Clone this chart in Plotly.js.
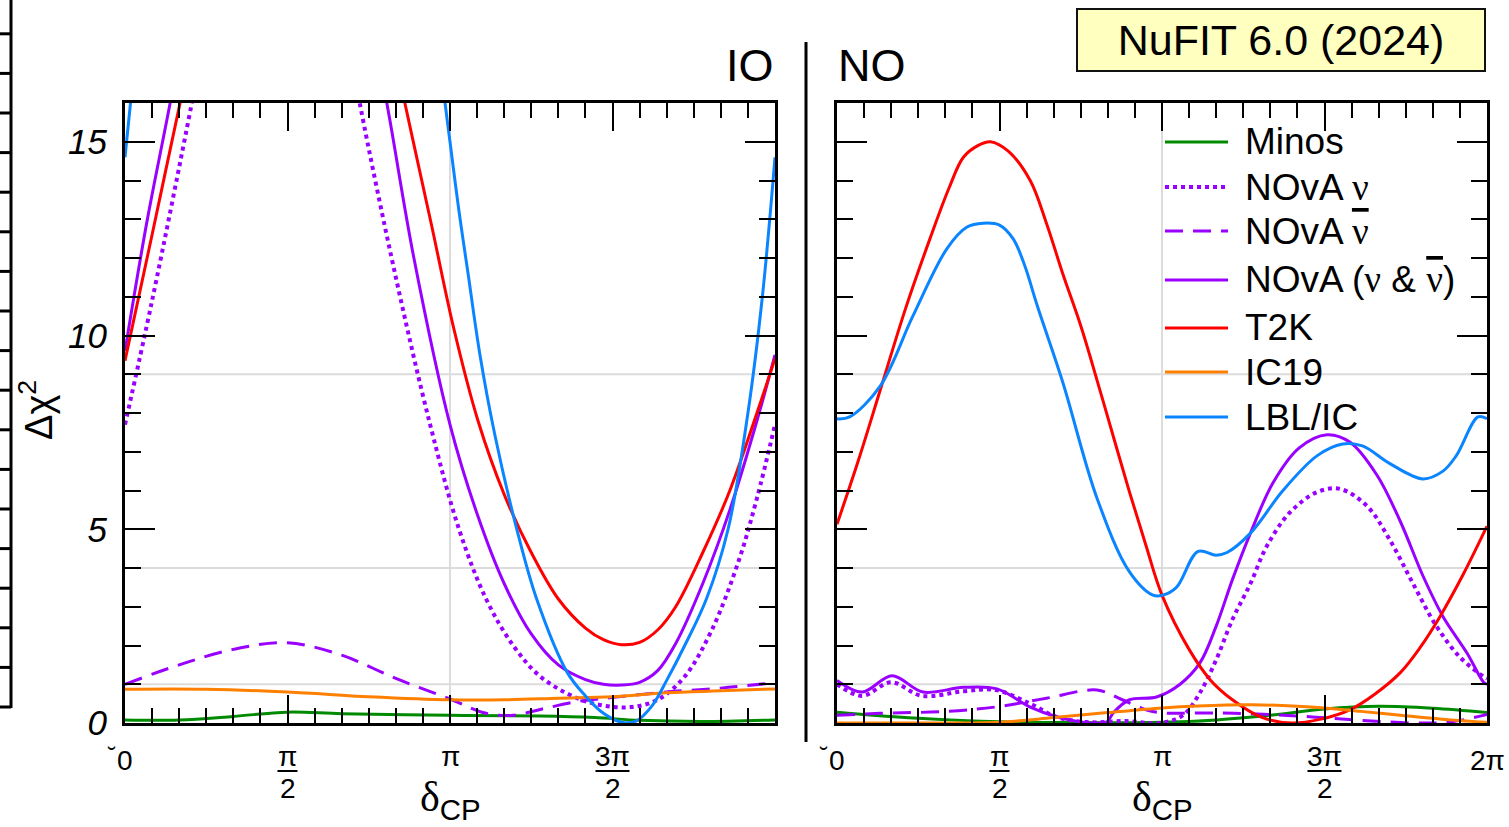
<!DOCTYPE html>
<html>
<head>
<meta charset="utf-8">
<script src="https://cdn.plot.ly/plotly-3.0.1.min.js"></script>
<style>html,body{margin:0;padding:0;background:#fff;}#chart{width:1509px;height:827px;}</style>
</head>
<body>
<div id="chart"></div>
<script>
// ---------------- DATA (delta_CP in degrees, values in Delta chi^2) ----------------
const seriesNames = ["Minos", "NOvA ν", "NOvA ν̄", "NOvA (ν & ν̄)", "T2K", "IC19", "LBL/IC"];
const seriesColors = ["#008a00", "#9900ff", "#9900ff", "#9900ff", "#ff0000", "#ff8000", "#0a85ff"];

// IO panel
const io_minos_x = [0, 30, 60, 90, 120, 180, 230, 260, 285, 320, 360];
const io_minos_y = [0.08, 0.08, 0.17, 0.28, 0.24, 0.2, 0.18, 0.14, 0.07, 0.04, 0.08];
const io_novanu_x = [0, 15, 37, 50, 120, 130, 150, 169, 185, 200, 215, 230, 250, 265, 280, 295, 310, 325, 340, 350, 360];
const io_novanu_y = [7.7, 10.9, 16, 19.2, 18.6, 16, 11.5, 7.7, 5.0, 3.2, 2.0, 1.2, 0.65, 0.45, 0.41, 0.6, 1.2, 2.4, 4.2, 5.8, 7.7];
const io_novanubar_x = [0, 30, 60, 90, 120, 150, 180, 200, 215, 230, 250, 272, 300, 330, 360];
const io_novanubar_y = [1.0, 1.5, 1.9, 2.07, 1.75, 1.15, 0.62, 0.25, 0.2, 0.35, 0.55, 0.67, 0.8, 0.9, 1.04];
const io_nova_x = [0, 12, 25, 40, 130, 145, 160, 180, 195, 210, 225, 240, 255, 265, 275, 285, 295, 305, 320, 335, 350, 360];
const io_nova_y = [9.6, 12.9, 16, 19.8, 19.6, 16, 12.0, 7.7, 5.4, 3.6, 2.3, 1.5, 1.12, 1.0, 0.98, 1.05, 1.35, 2.05, 3.6, 5.5, 7.8, 9.5];
const io_t2k_x = [0, 15, 30.5, 45, 140, 155, 170, 182, 195.5, 210, 225, 240, 255, 265, 275, 285, 295, 305, 320, 335, 350, 360];
const io_t2k_y = [9.35, 12.6, 16, 19.1, 19.3, 16, 12.8, 10.2, 7.8, 5.9, 4.4, 3.2, 2.45, 2.15, 2.02, 2.08, 2.4, 3.0, 4.4, 6.0, 8.0, 9.4];
const io_ic19_x = [0, 45, 90, 135, 180, 210, 240, 270, 300, 330, 360];
const io_ic19_y = [0.87, 0.87, 0.8, 0.68, 0.6, 0.6, 0.64, 0.68, 0.78, 0.83, 0.88];
const io_lblic_x = [0, 5, 10, 170, 177, 180, 185, 190, 196.6, 205, 217, 228, 245, 255, 265, 275, 283, 292, 300, 310, 322, 334, 345, 353, 360];
const io_lblic_y = [14.6, 16.9, 19.2, 19.0, 16.1, 15.0, 13.2, 11.6, 9.5, 7.4, 5.0, 3.2, 1.3, 0.7, 0.25, 0.02, 0.05, 0.45, 1.1, 2.0, 3.2, 5.0, 8.0, 11.0, 14.6];

// NO panel
const no_minos_x = [0, 20, 45, 90, 130, 180, 210, 240, 270, 300, 330, 360];
const no_minos_y = [0.28, 0.2, 0.12, 0.03, 0.01, 0.02, 0.08, 0.2, 0.36, 0.43, 0.38, 0.27];
const no_novanu_x = [0, 14, 30, 47, 70, 88, 107, 122, 140, 160, 179, 191.6, 201, 210, 219, 229, 238, 251, 266, 278.6, 293.5, 306, 319, 332, 345, 358, 360];
const no_novanu_y = [1.0, 0.7, 1.05, 0.7, 0.82, 0.85, 0.5, 0.15, 0.02, 0.05, 0.0, 0.2, 0.78, 1.63, 2.67, 3.6, 4.56, 5.44, 5.96, 6.04, 5.6, 4.74, 3.6, 2.5, 1.7, 1.2, 1.15];
const no_novanubar_x = [0, 24, 61, 89, 116, 144, 158, 172, 180, 210, 240, 265, 290, 320, 340, 360];
const no_novanubar_y = [0.2, 0.25, 0.3, 0.42, 0.64, 0.85, 0.6, 0.33, 0.26, 0.26, 0.22, 0.15, 0.07, 0.0, 0.03, 0.22];
const no_nova_x = [0, 14, 30.5, 47.6, 70, 88.6, 107, 121.8, 140, 149.5, 153, 162, 177, 190, 201, 210, 219, 229, 241.5, 256, 271.4, 284, 299, 312, 324.5, 335.6, 349, 358, 360];
const no_nova_y = [1.1, 0.8, 1.22, 0.8, 0.92, 0.88, 0.41, 0.16, 0.0, 0.03, 0.26, 0.6, 0.67, 1.0, 1.55, 2.5, 3.7, 4.9, 6.2, 7.1, 7.44, 7.25, 6.4, 5.2, 3.8, 2.75, 1.8, 1.06, 1.0];
const no_t2k_x = [0, 12, 24, 38, 51.5, 62, 70, 78, 85, 95, 107, 116, 125, 135, 144, 153, 162, 171, 180, 195, 207, 219, 235, 252, 268, 284, 298, 312, 323, 334, 347, 360];
const no_t2k_y = [5.13, 6.8, 8.6, 10.7, 12.5, 13.8, 14.6, 14.9, 15.0, 14.75, 14.0, 12.9, 11.6, 10.25, 8.85, 7.4, 5.96, 4.6, 3.3, 1.9, 1.1, 0.6, 0.15, 0.0, 0.1, 0.34, 0.75, 1.3, 1.95, 2.75, 3.85, 5.08];
const no_ic19_x = [0, 45, 90, 120, 150, 180, 200, 230, 260, 290, 312, 335, 360];
const no_ic19_y = [0, 0, 0.02, 0.14, 0.27, 0.39, 0.44, 0.47, 0.42, 0.3, 0.2, 0.1, 0.02];
const no_lblic_x = [0, 7, 24, 42, 61, 72, 81, 90, 97.5, 104, 110.7, 125, 144, 162, 175, 180.5, 188, 200, 210, 216, 229, 247, 266, 280, 291, 306, 324.5, 335.6, 343, 355, 360];
const no_lblic_y = [7.85, 7.9, 8.7, 10.5, 12.25, 12.8, 12.9, 12.85, 12.5, 11.8, 10.8, 8.8, 5.8, 3.9, 3.3, 3.3, 3.5, 4.43, 4.33, 4.4, 4.9, 6.0, 6.9, 7.2, 7.15, 6.7, 6.3, 6.5, 6.9, 7.9, 7.85];

const yTickVals = [0, 5, 10, 15];
const yTickText = ["0", "5", "10", "15"];
const gridLevels = [1, 4, 9];

// ---------------- BUILD ----------------
const W = 1509, H = 827;
const px = x => x / W;
const py = y => 1 - y / H;

const ioX = [io_minos_x, io_novanu_x, io_novanubar_x, io_nova_x, io_t2k_x, io_ic19_x, io_lblic_x];
const ioY = [io_minos_y, io_novanu_y, io_novanubar_y, io_nova_y, io_t2k_y, io_ic19_y, io_lblic_y];
const noX = [no_minos_x, no_novanu_x, no_novanubar_x, no_nova_x, no_t2k_x, no_ic19_x, no_lblic_x];
const noY = [no_minos_y, no_novanu_y, no_novanubar_y, no_nova_y, no_t2k_y, no_ic19_y, no_lblic_y];
const dashes = ["solid", "4px,4px", "18px,10px", "solid", "solid", "solid", "solid"];
const widths = [3, 4, 3, 3, 3, 3, 3];

const traces = [];
[[ioX, ioY, 'x', 'y'], [noX, noY, 'x2', 'y2']].forEach(([XS, YS, xa, ya]) => {
  for (let i = 0; i < seriesNames.length; i++) {
    traces.push({
      type: 'scatter', mode: 'lines', name: seriesNames[i],
      x: XS[i], y: YS[i], xaxis: xa, yaxis: ya, showlegend: false,
      line: {color: seriesColors[i], width: widths[i], dash: dashes[i], shape: 'spline', smoothing: 1},
      hoverinfo: 'skip'
    });
  }
});

const xdom1 = [px(125), px(775)], xdom2 = [px(837), px(1487)];
const ydom = [py(723), py(103)];

function xAxis(domain, anchor) {
  return {
    domain: domain, anchor: anchor, range: [0, 360], showgrid: false, zeroline: false,
    showline: true, linewidth: 3, linecolor: 'black', mirror: 'allticks',
    ticks: 'inside', ticklen: 28, tickwidth: 2, tickcolor: 'black',
    tickmode: 'array', tickvals: [0, 90, 180, 270, 360], showticklabels: false,
    minor: {tickmode: 'linear', tick0: 0, dtick: 15, ticks: 'inside', ticklen: 15, tickwidth: 2, tickcolor: 'black', showgrid: false},
    fixedrange: true
  };
}
function yAxis(anchor, labels) {
  return {
    domain: ydom, anchor: anchor, range: [0, 16], showgrid: false, zeroline: false,
    showline: true, linewidth: 3, linecolor: 'black', mirror: 'allticks',
    ticks: 'inside', ticklen: 30, tickwidth: 2, tickcolor: 'black',
    tickmode: 'array', tickvals: yTickVals, ticktext: yTickText, showticklabels: labels,
    ticklabelstandoff: 8,
    tickfont: {size: 35, style: 'italic', color: 'black', family: 'Liberation Sans, Arial, sans-serif'},
    minor: {tickmode: 'linear', tick0: 0, dtick: 1, ticks: 'inside', ticklen: 16, tickwidth: 2, tickcolor: 'black', showgrid: false},
    fixedrange: true
  };
}

const shapes = [];
const annotations = [];
// grid lines
[['x', 'y'], ['x2', 'y2']].forEach(([xa, ya]) => {
  gridLevels.forEach(v => shapes.push({type: 'line', layer: 'below', xref: xa + ' domain', yref: ya, x0: 0, x1: 1, y0: v, y1: v, line: {color: '#dcdcdc', width: 2}}));
  shapes.push({type: 'line', layer: 'below', xref: xa, yref: ya + ' domain', x0: 180, x1: 180, y0: 0, y1: 1, line: {color: '#dcdcdc', width: 2}});
});
// separator
shapes.push({type: 'line', xref: 'paper', yref: 'paper', x0: px(806), x1: px(806), y0: py(42), y1: py(742), line: {color: 'black', width: 3}});
// clipped neighbouring axis on the far left
shapes.push({type: 'line', xref: 'paper', yref: 'paper', x0: px(11), x1: px(11), y0: py(0), y1: py(708), line: {color: 'black', width: 3}});
for (let k = 0; k <= 17; k++) {
  const yy = 707 - 39.6 * k;
  shapes.push({type: 'line', xref: 'paper', yref: 'paper', x0: 0, x1: px(11), y0: py(yy), y1: py(yy), line: {color: 'black', width: 3}});
}

// x tick labels
const labFont = {size: 28, color: 'black', family: 'Liberation Sans, Arial, sans-serif'};
function simpleLabel(xa, xv, txt) {
  annotations.push({xref: xa, yref: 'paper', x: xv, y: py(760), text: txt, showarrow: false, font: labFont, xanchor: 'center', yanchor: 'middle'});
}
function fracLabel(xa, xv, num, den, half) {
  annotations.push({xref: xa, yref: 'paper', x: xv, y: py(756), text: num, showarrow: false, font: labFont, xanchor: 'center', yanchor: 'middle'});
  annotations.push({xref: xa, yref: 'paper', x: xv, y: py(788), text: den, showarrow: false, font: labFont, xanchor: 'center', yanchor: 'middle'});
  shapes.push({type: 'line', xref: xa, yref: 'paper', xsizemode: 'pixel', xanchor: xv, x0: -half, x1: half, y0: py(771), y1: py(771), line: {color: 'black', width: 2}});
}
['x', 'x2'].forEach(xa => {
  simpleLabel(xa, 0, '0');
  annotations.push({xref: xa, yref: 'paper', x: 0, y: py(755), xshift: -14, text: '˘', showarrow: false, font: {size: 24, color: 'black'}, xanchor: 'center', yanchor: 'middle'});
  fracLabel(xa, 90, 'π', '2', 10);
  annotations.push({xref: xa, yref: 'paper', x: 180, y: py(756), text: 'π', showarrow: false, font: labFont, xanchor: 'center', yanchor: 'middle'});
  fracLabel(xa, 270, '3π', '2', 17);
  annotations.push({xref: xa, yref: 'paper', x: 180, y: py(800), text: "<span style='font-family:Liberation Serif'>δ</span><sub>CP</sub>", showarrow: false, font: {size: 42, color: 'black', family: 'Liberation Sans, Arial, sans-serif'}, xanchor: 'center', yanchor: 'middle'});
});
simpleLabel('x2', 360, '2π');

// panel labels
annotations.push({xref: 'paper', yref: 'paper', x: px(776), y: py(66), text: 'IO', showarrow: false, font: {size: 45, color: 'black'}, xanchor: 'right', yanchor: 'middle'});
annotations.push({xref: 'paper', yref: 'paper', x: px(836), y: py(66), text: 'NO', showarrow: false, font: {size: 45, color: 'black'}, xanchor: 'left', yanchor: 'middle'});
// y title
annotations.push({xref: 'paper', yref: 'paper', x: px(36), y: py(410), text: 'Δχ<sup>2</sup>', textangle: -90, showarrow: false, font: {size: 38, color: 'black'}, xanchor: 'center', yanchor: 'middle'});
// NuFIT box
annotations.push({xref: 'paper', yref: 'paper', x: px(1281), y: py(40), text: 'NuFIT 6.0 (2024)', showarrow: false, font: {size: 43, color: 'black'},
  bgcolor: '#ffffc0', bordercolor: '#111', borderwidth: 2, width: 406, height: 60, xanchor: 'center', yanchor: 'middle', borderpad: 0});

// manual legend
const legRows = [142, 187, 231, 280, 328, 372, 417];
const nu = "<span style='font-family:Liberation Serif'>ν</span>";
const nubar = "<span style='font-family:Liberation Serif;text-decoration:overline'>ν</span>";
const legText = ["Minos", "NOvA " + nu, "NOvA " + nubar, "NOvA (" + nu + " &amp; " + nubar + ")", "T2K", "IC19", "LBL/IC"];
for (let i = 0; i < legRows.length; i++) {
  shapes.push({type: 'line', xref: 'paper', yref: 'paper', x0: px(1165), x1: px(1228), y0: py(legRows[i]), y1: py(legRows[i]),
    line: {color: seriesColors[i], width: widths[i], dash: dashes[i]}});
  annotations.push({xref: 'paper', yref: 'paper', x: px(1243), y: py(legRows[i]), text: legText[i], showarrow: false,
    font: {size: 37, color: 'black'}, xanchor: 'left', yanchor: 'middle'});
}

const layout = {
  width: W, height: H, autosize: false,
  margin: {l: 0, r: 0, t: 0, b: 0, pad: 0},
  paper_bgcolor: 'white', plot_bgcolor: 'rgba(0,0,0,0)',
  font: {family: 'Liberation Sans, Arial, sans-serif', color: 'black'},
  showlegend: false,
  xaxis: xAxis(xdom1, 'y'), yaxis: yAxis('x', true),
  xaxis2: xAxis(xdom2, 'y2'), yaxis2: yAxis('x2', false),
  shapes: shapes, annotations: annotations
};

Plotly.newPlot('chart', traces, layout, {staticPlot: true, displayModeBar: false});
</script>
</body>
</html>
